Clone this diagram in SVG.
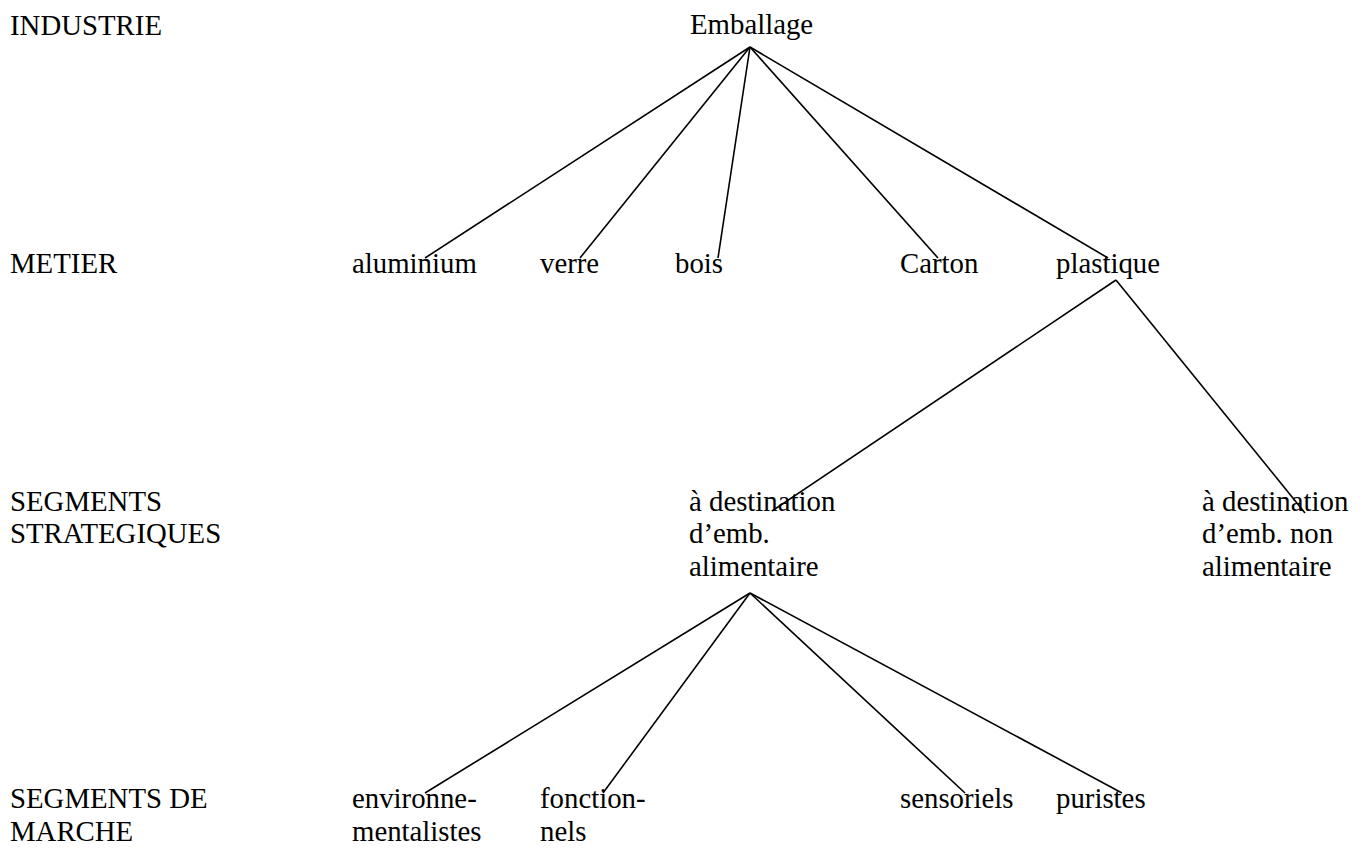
<svg xmlns="http://www.w3.org/2000/svg" width="1367" height="852" viewBox="0 0 1367 852">
<style>
text{font-family:"Liberation Serif","Times New Roman",serif;font-size:28.8px;fill:#000}
.c line{stroke:#000;stroke-width:1.6;fill:none}
</style>
<rect width="1367" height="852" fill="#fff"/>
<g id="levels">
<text x="10" y="35">INDUSTRIE</text>
<text x="10" y="273">METIER</text>
<text x="10" y="511">SEGMENTS</text>
<text x="10" y="543">STRATEGIQUES</text>
<text x="10" y="808">SEGMENTS DE</text>
<text x="10" y="841">MARCHE</text>
</g>
<g class="c" id="connectors">
<line x1="750" y1="47" x2="425" y2="258"/>
<line x1="750" y1="47" x2="580" y2="258"/>
<line x1="750" y1="47" x2="718" y2="258"/>
<line x1="750" y1="47" x2="938" y2="258"/>
<line x1="750" y1="47" x2="1108" y2="258"/>
<line x1="1116" y1="280" x2="772" y2="511"/>
<line x1="1116" y1="280" x2="1305" y2="513"/>
<line x1="750" y1="593" x2="425" y2="793"/>
<line x1="750" y1="593" x2="603" y2="793"/>
<line x1="750" y1="593" x2="965" y2="793"/>
<line x1="750" y1="593" x2="1122" y2="793"/>
</g>
<g id="n-emballage"><text x="690" y="34">Emballage</text></g>
<g id="n-aluminium"><text x="352" y="273">aluminium</text></g>
<g id="n-verre"><text x="540" y="273">verre</text></g>
<g id="n-bois"><text x="675" y="273">bois</text></g>
<g id="n-carton"><text x="900" y="273">Carton</text></g>
<g id="n-plastique"><text x="1056" y="273">plastique</text></g>
<g id="n-alim"><text x="689" y="511">à destination</text><text x="689" y="543">d’emb.</text><text x="689" y="576">alimentaire</text></g>
<g id="n-nonalim"><text x="1202" y="511">à destination</text><text x="1202" y="543">d’emb. non</text><text x="1202" y="576">alimentaire</text></g>
<g id="n-env"><text x="352" y="808">environne-</text><text x="352" y="841">mentalistes</text></g>
<g id="n-fonc"><text x="540" y="808">fonction-</text><text x="540" y="841">nels</text></g>
<g id="n-sens"><text x="900" y="808">sensoriels</text></g>
<g id="n-pur"><text x="1056" y="808">puristes</text></g>
</svg>
